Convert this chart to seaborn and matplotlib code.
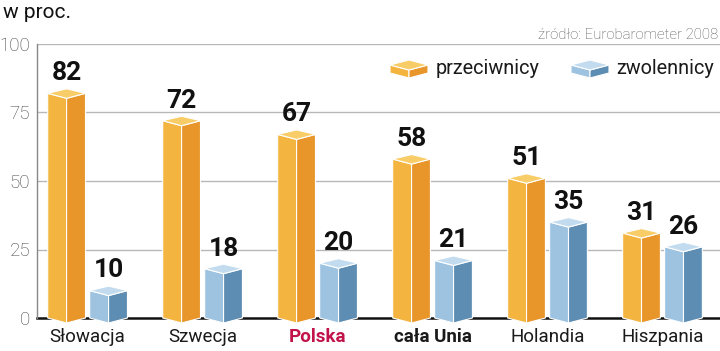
import matplotlib
matplotlib.use("Agg")
import matplotlib.pyplot as plt
from matplotlib.patches import Polygon
import seaborn as sns
import pandas as pd

categories = ["Słowacja", "Szwecja", "Polska", "cała Unia", "Holandia", "Hiszpania"]
przeciwnicy = [82, 72, 67, 58, 51, 31]
zwolennicy = [10, 18, 20, 21, 35, 26]
series_names = ["przeciwnicy", "zwolennicy"]
yticks = [0, 25, 50, 75, 100]

sns.set_theme(style="white")
plt.rcParams["font.family"] = ["Roboto", "DejaVu Sans"]

df = pd.DataFrame({
    "kraj": categories * 2,
    "seria": [series_names[0]] * len(categories) + [series_names[1]] * len(categories),
    "wartosc": przeciwnicy + zwolennicy,
})

colors = {
    "przeciwnicy": {"left": "#f3b53f", "right": "#e8952a", "top": "#f8cc66"},
    "zwolennicy": {"left": "#9dc3e1", "right": "#5d8db3", "top": "#c2dbee"},
}

fig = plt.figure(figsize=(7.2, 3.51), dpi=100)
ax = fig.add_axes([37 / 720, 33 / 351, 683 / 720, 274 / 351])

sns.barplot(data=df, x="kraj", y="wartosc", hue="seria", order=categories,
            hue_order=series_names,
            palette=[colors["przeciwnicy"]["left"], colors["zwolennicy"]["left"]],
            width=0.73, gap=0.1, ax=ax, legend=False, linewidth=0, zorder=3)

ax.set_xlim(-0.44, 5.50)
ax.set_ylim(0, 100)
ax.set_yticks(yticks)
ax.set_yticklabels([str(v) for v in yticks], color="#444444", fontsize=13.5,
                   fontweight="light")
ax.set_xlabel("")
ax.set_ylabel("")
ax.grid(False)
for v in yticks[1:]:
    ax.axhline(v, color="#b8b8b8", lw=1.0, zorder=0.5)

for s in ["top", "right"]:
    ax.spines[s].set_visible(False)
ax.spines["left"].set_color("#888888")
ax.spines["left"].set_linewidth(1.0)
ax.spines["bottom"].set_color("#111111")
ax.spines["bottom"].set_linewidth(1.8)
ax.spines["bottom"].set_zorder(2)
ax.tick_params(axis="both", length=0)
ax.tick_params(axis="y", pad=5)
ax.tick_params(axis="x", pad=7)

# x tick labels
ax.set_xticks(range(len(categories)))
ax.set_xticklabels(categories, fontsize=13.5, color="#1a1a1a")
for lbl in ax.get_xticklabels():
    if lbl.get_text() == "Polska":
        lbl.set_color("#c2134a")
        lbl.set_fontweight("bold")
    elif lbl.get_text() == "cała Unia":
        lbl.set_fontweight("bold")

# 3D cube decoration derived from the seaborn bars
px_per_unit = 274 / 100.0
d = 5.0 / px_per_unit
bars = [p for p in ax.patches if p.get_height() > 0]
for i, bar in enumerate(bars):
    sname = series_names[0] if i < len(categories) else series_names[1]
    c = colors[sname]
    xl = bar.get_x()
    w = bar.get_width()
    xr = xl + w
    xc = xl + w / 2
    v = bar.get_height()
    bar.set_visible(False)
    left = Polygon([(xl, v), (xc, v - d), (xc, -d), (xl, 0)], closed=True,
                   facecolor=c["left"], edgecolor="white", lw=0.8,
                   zorder=3, clip_on=False)
    right = Polygon([(xc, v - d), (xr, v), (xr, 0), (xc, -d)], closed=True,
                    facecolor=c["right"], edgecolor="white", lw=0.8,
                    zorder=3, clip_on=False)
    top = Polygon([(xl, v), (xc, v + d * 0.9), (xr, v), (xc, v - d)], closed=True,
                  facecolor=c["top"], edgecolor="white", lw=0.8,
                  zorder=3.1, clip_on=False)
    ax.add_patch(left)
    ax.add_patch(right)
    ax.add_patch(top)
    ax.annotate(f"{int(round(v))}", (xc, v), xytext=(0, 14.5),
                textcoords="offset points", ha="center", va="center",
                fontsize=19, fontweight="bold", color="#111111", zorder=5)

# titles
fig.text(3 / 720, 1 - 13 / 351, "w proc.", fontsize=15, color="#111111",
         ha="left", va="center")
fig.text(718 / 720, 1 - 35 / 351, "źródło: Eurobarometer 2008", fontsize=10.8,
         color="#555555", ha="right", va="center", fontweight="light")

# legend with cube icons
def legend_icon(x0, x1, yc, c):
    xm = (x0 + x1) / 2
    h = 4 / 351
    dd = 5 / 351
    tr = fig.transFigure
    fig.patches.append(Polygon([(x0, yc), (xm, yc - dd), (xm, yc - dd - h * 2), (x0, yc - h * 2)],
                               closed=True, facecolor=c["left"], edgecolor="white", lw=0.8,
                               transform=tr, figure=fig))
    fig.patches.append(Polygon([(xm, yc - dd), (x1, yc), (x1, yc - h * 2), (xm, yc - dd - h * 2)],
                               closed=True, facecolor=c["right"], edgecolor="white", lw=0.8,
                               transform=tr, figure=fig))
    fig.patches.append(Polygon([(x0, yc), (xm, yc + dd), (x1, yc), (xm, yc - dd)],
                               closed=True, facecolor=c["top"], edgecolor="white", lw=0.8,
                               transform=tr, figure=fig))

legend_y = 1 - 65 / 351
legend_icon(390 / 720, 428 / 720, legend_y, colors["przeciwnicy"])
fig.text(436 / 720, 1 - 68 / 351, series_names[0], fontsize=14.3, color="#1a1a1a",
         ha="left", va="center")
legend_icon(571 / 720, 609 / 720, legend_y, colors["zwolennicy"])
fig.text(616 / 720, 1 - 68 / 351, series_names[1], fontsize=14.3, color="#1a1a1a",
         ha="left", va="center")

fig.savefig("out.png", dpi=100, facecolor="white")
